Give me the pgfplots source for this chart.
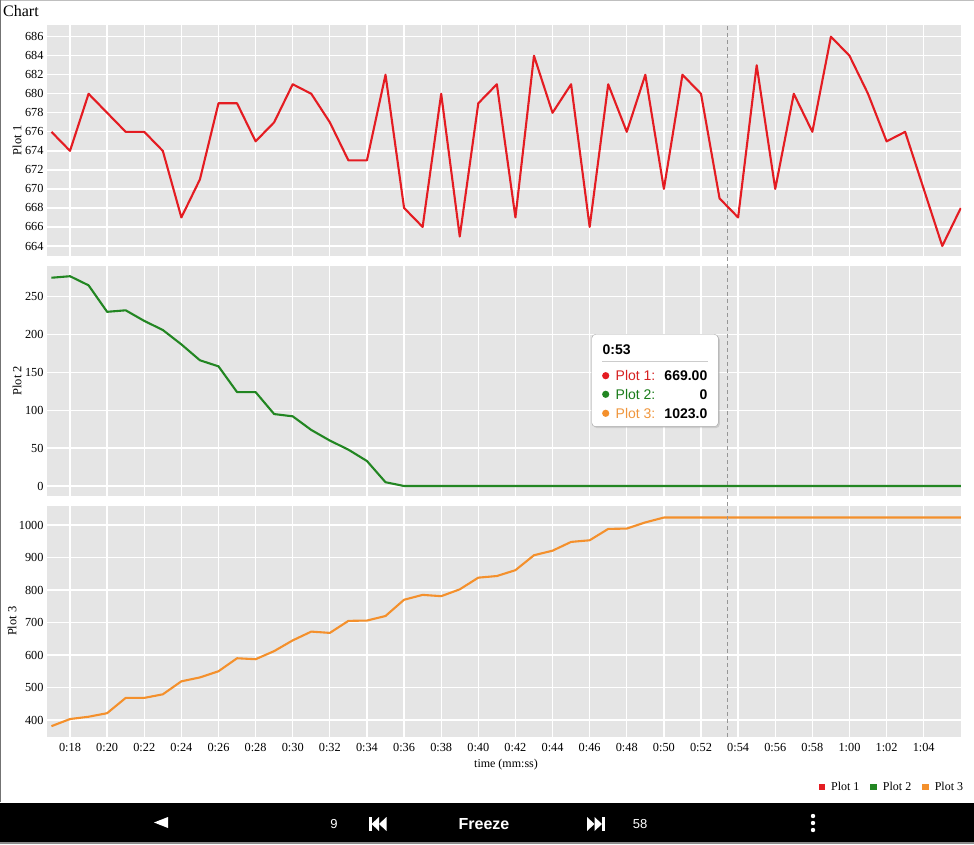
\documentclass[border=0pt]{standalone}
\usepackage{pgfplots}
\usepackage{pgfplotstable}
\pgfplotsset{compat=1.18}
\usepackage{fontspec}
\setmainfont{Liberation Serif}
\newfontfamily\sansf{Liberation Sans}
\usetikzlibrary{shadows}
\definecolor{pone}{RGB}{228,28,34}
\definecolor{ptwo}{RGB}{34,134,34}
\definecolor{pthree}{RGB}{244,144,44}
\definecolor{bgc}{RGB}{229,229,229}
\definecolor{dashc}{RGB}{150,150,150}
\definecolor{tone}{RGB}{214,32,32}
\definecolor{ttwo}{RGB}{26,124,26}
\definecolor{tthree}{RGB}{240,150,60}
\newcommand\fs[1]{\fontsize{#1}{#1}\selectfont}

\pgfplotstableread{
t p1 p2 p3
17 676 275 381
18 674 277 403
19 680 265 410
20 678 230 421
21 676 232 468
22 676 218 468
23 674 206 479
24 667 187 519
25 671 166 531
26 679 158 550
27 679 124 590
28 675 124 587
29 677 95 612
30 681 92 645
31 680 74 672
32 677 60 668
33 673 48 705
34 673 33 706
35 682 5 720
36 668 0 770
37 666 0 785
38 680 0 781
39 665 0 802
40 679 0 838
41 681 0 843
42 667 0 861
43 684 0 907
44 678 0 921
45 681 0 948
46 666 0 953
47 681 0 988
48 676 0 989
49 682 0 1008
50 670 0 1023
51 682 0 1023
52 680 0 1023
53 669 0 1023
54 667 0 1023
55 683 0 1023
56 670 0 1023
57 680 0 1023
58 676 0 1023
59 686 0 1023
60 684 0 1023
61 680 0 1023
62 675 0 1023
63 676 0 1023
64 670 0 1023
65 664 0 1023
66 668 0 1023
}\datatable

\pgfplotsset{
  panel/.style={
    scale only axis, width=914pt,
    xmin=16.76, xmax=66.01,
    xtick={18,20,...,64},
    grid=major,
    major grid style={white, line width=1.3pt},
    axis background/.style={fill=bgc},
    axis line style={draw=none},
    major tick length=0pt,
    tick label style={font=\fs{12.3}},
    ylabel style={font=\fs{12.5}, anchor=center},
    /pgf/number format/assume math mode=true,
    /pgf/number format/1000 sep={},
  },
  dline/.style={line width=2.1pt, line join=round},
}

\begin{document}
\begin{tikzpicture}[x=1pt,y=1pt]
\useasboundingbox (0,0) rectangle (974,844);
\fill[white] (0,0) rectangle (974,844);
\draw[black!25, line width=1pt] (0,843.4) -- (974,843.4);
\draw[black!55, line width=1.2pt] (0.6,42) -- (0.6,844);
\node[anchor=base west, inner sep=0, font=\fs{16}] at (3,827.5) {Chart};

% Plot 1
\begin{axis}[panel,
  at={(47pt,588.3pt)}, anchor=south west, height=230.7pt,
  ymin=662.98, ymax=687.23, ytick={664,666,...,686},
  xticklabel=\empty,
  ylabel={Plot 1},
  ylabel style={at={(axis description cs:-0.0328,0.5)}},
]
\addplot[pone, dline] table[x=t,y=p1]{\datatable};
\end{axis}

% Plot 2
\begin{axis}[panel,
  at={(47pt,348.3pt)}, anchor=south west, height=230pt,
  ymin=-12.8, ymax=290.9, ytick={0,50,...,250},
  xticklabel=\empty,
  ylabel={Plot 2},
  ylabel style={at={(axis description cs:-0.0328,0.5)}},
]
\addplot[ptwo, dline] table[x=t,y=p2]{\datatable};
\end{axis}

% Plot 3
\begin{axis}[panel,
  at={(47pt,107.3pt)}, anchor=south west, height=231pt,
  ymin=348.6, ymax=1059.4, ytick={400,500,...,1000},
  xticklabels={0:18,0:20,0:22,0:24,0:26,0:28,0:30,0:32,0:34,0:36,0:38,0:40,0:42,0:44,0:46,0:48,0:50,0:52,0:54,0:56,0:58,1:00,1:02,1:04},
  xticklabel style={yshift=-3.3pt},
  xlabel={time (mm:ss)},
  xlabel style={font=\fs{12}, at={(axis description cs:0.5,0)}, anchor=center, yshift=-28.3pt, xshift=2pt},
  ylabel={Plot 3},
  ylabel style={at={(axis description cs:-0.0383,0.5)}},
  clip=false,
  legend style={at={(1.008,-0.2177)}, anchor=east, draw=none, fill=none,
    font=\fs{12}, legend columns=-1,
    /tikz/every odd column/.append style={column sep=4pt},
    /tikz/every even column/.append style={column sep=9pt}},
  legend image code/.code={\fill[#1] (0pt,-2.6pt) rectangle (6.5pt,2.6pt);},
]
\addplot[pthree, dline, forget plot] table[x=t,y=p3]{\datatable};
\addlegendimage{fill=pone, draw=none}
\addlegendentry{Plot 1}
\addlegendimage{fill=ptwo, draw=none}
\addlegendentry{Plot 2}
\addlegendimage{fill=pthree, draw=none}
\addlegendentry{Plot 3}
\draw[dashc, line width=1.2pt, dash pattern=on 4pt off 3pt] (axis cs:53.44,348.6) -- ++(0pt,711.7pt);
\end{axis}

% tooltip
\draw[draw=black!35, fill=white, rounded corners=4pt,
  drop shadow={opacity=0.25, shadow xshift=1.5pt, shadow yshift=-1.5pt}]
  (591.7,417.3) rectangle (718.3,509.7);
\node[anchor=base west, inner sep=0, font=\sansf\bfseries\fs{14}] at (602.5,489) {0:53};
\draw[black!20, line width=0.8pt] (602,483) -- (708,483);
\fill[pone] (605.7,468.3) circle (3.6);
\fill[ptwo] (605.7,449.7) circle (3.6);
\fill[pthree] (605.7,430.7) circle (3.6);
\node[anchor=base west, inner sep=0, font=\sansf\fs{14}, text=tone] at (615.5,463.3) {Plot 1:};
\node[anchor=base west, inner sep=0, font=\sansf\fs{14}, text=ttwo] at (615.5,444.7) {Plot 2:};
\node[anchor=base west, inner sep=0, font=\sansf\fs{14}, text=tthree] at (615.5,425.7) {Plot 3:};
\node[anchor=base east, inner sep=0, font=\sansf\bfseries\fs{14}] at (707.5,463.3) {669.00};
\node[anchor=base east, inner sep=0, font=\sansf\bfseries\fs{14}] at (707.5,444.7) {0};
\node[anchor=base east, inner sep=0, font=\sansf\bfseries\fs{14}] at (707.5,425.7) {1023.0};

% toolbar
\fill[black] (0,2.3) rectangle (974,41.3);
\fill[black!45] (0,0) rectangle (974,2.3);
\fill[white] (154,21.5) -- (168,27) -- (168,16) -- cycle;
\node[text=white, font=\sansf\fs{13}] at (334,20) {9};
\fill[white] (369,13) rectangle (371.5,27);
\fill[white] (371.5,20) -- (379,27) -- (379,13) -- cycle;
\fill[white] (379,20) -- (386.5,27) -- (386.5,13) -- cycle;
\node[text=white, font=\sansf\bfseries\fs{16}] at (484,20) {Freeze};
\fill[white] (587,27) -- (594.5,20) -- (587,13) -- cycle;
\fill[white] (594.5,27) -- (602,20) -- (594.5,13) -- cycle;
\fill[white] (602,13) rectangle (604.5,27);
\node[text=white, font=\sansf\fs{13}] at (640,20) {58};
\fill[white] (813,28) circle (2.2) (813,21) circle (2.2) (813,14) circle (2.2);
\end{tikzpicture}
\end{document}
